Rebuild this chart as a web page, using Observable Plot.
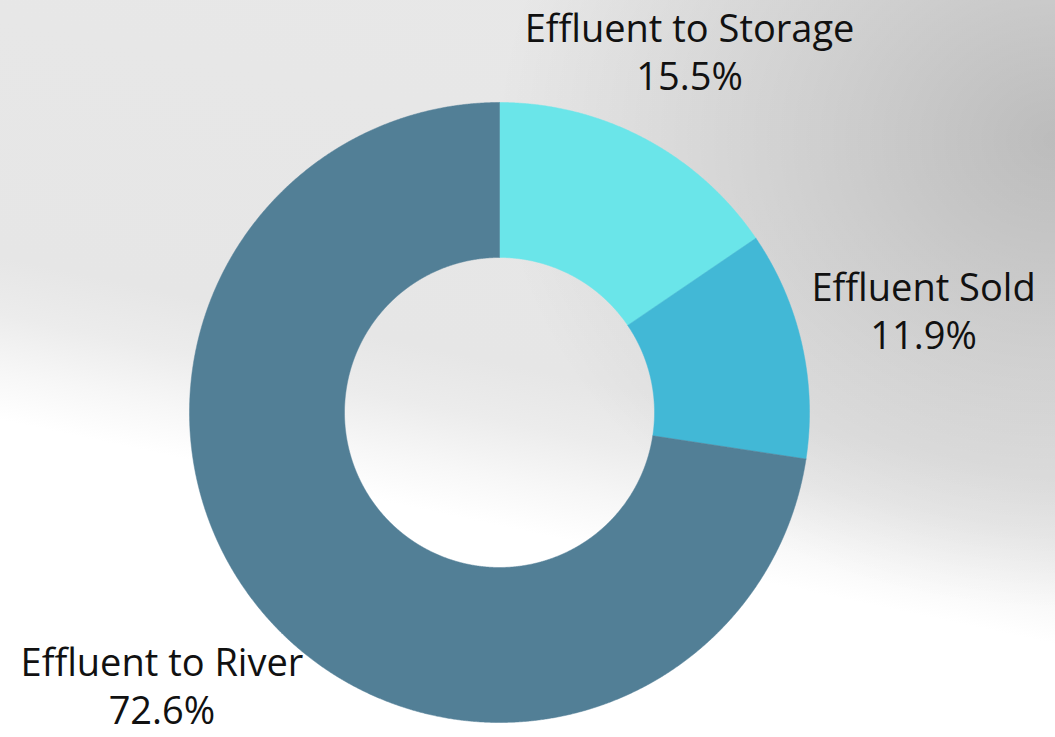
<!DOCTYPE html>
<html>
<head>
<meta charset="utf-8">
<script src="https://cdn.jsdelivr.net/npm/d3@7"></script>
<script src="https://cdn.jsdelivr.net/npm/@observablehq/plot@0.6"></script>
<style>
  html, body { margin: 0; padding: 0; }
  body {
    width: 1055px; height: 737px; overflow: hidden;
    background:
      radial-gradient(ellipse 560px 470px at 1055px 140px, rgba(0,0,0,0.19) 0%, rgba(0,0,0,0.11) 40%, rgba(0,0,0,0) 100%),
      linear-gradient(12deg, #ffffff 0%, #ffffff 33%, #f7f7f7 38%, #ececec 44%, #e6e6e6 50%, #e8e8e8 100%);
  }
  #chart svg { display: block; background: transparent; }
</style>
</head>
<body>
<div id="chart"></div>
<script>
// Data
const categories = ["Effluent to Storage", "Effluent Sold", "Effluent to River"];
const shares = [15.5, 11.9, 72.6];
const colors = ["#6ae5e9", "#42b8d6", "#527f96"];

// Layout (in radius units; outer radius = 1, centre at 0,0)
const innerRadius = 0.5;
const labelAnchors = [[0.613, 1.158], [1.368, 0.320], [-1.089, -0.889]];
const labelGaps = [48, 48, 48];

const W = 1055, H = 737;
const R = 310, cx = 499, cy = 412;

const pie = d3.pie().sort(null).value(d => d.value);
const arcs = pie(categories.map((name, i) => ({name, value: shares[i]})));

const pts = [];
for (const a of arcs) {
  const n = Math.max(8, Math.ceil((a.endAngle - a.startAngle) / 0.004));
  const poly = [];
  for (let k = 0; k <= n; k++) {
    const t = a.startAngle + (a.endAngle - a.startAngle) * k / n;
    poly.push({name: a.data.name, x: Math.sin(t), y: Math.cos(t)});
  }
  for (let k = n; k >= 0; k--) {
    const t = a.startAngle + (a.endAngle - a.startAngle) * k / n;
    poly.push({name: a.data.name, x: innerRadius * Math.sin(t), y: innerRadius * Math.cos(t)});
  }
  poly.push({...poly[0]});
  pts.push(...poly);
}

const labels = categories.map((name, i) => ({
  name, pct: shares[i].toFixed(1) + "%", x: labelAnchors[i][0], y: labelAnchors[i][1], gap: labelGaps[i]
}));

const marks = [
  Plot.line(pts, {x: "x", y: "y", z: "name", fill: "name", stroke: "name", strokeWidth: 0.5, curve: "linear"})
];
for (const l of labels) {
  marks.push(Plot.text([l], {x: "x", y: "y", text: "name", fontSize: 38, fill: "#111", dy: -l.gap / 2, lineAnchor: "middle"}));
  marks.push(Plot.text([l], {x: "x", y: "y", text: "pct", fontSize: 38, fill: "#111", dy: l.gap / 2, lineAnchor: "middle"}));
}

const chart = Plot.plot({
  width: W, height: H,
  margin: 0,
  style: {background: "transparent", fontFamily: "'Open Sans', sans-serif"},
  x: {domain: [-cx / R, (W - cx) / R], range: [0, W], axis: null},
  y: {domain: [-(H - cy) / R, cy / R], range: [H, 0], axis: null},
  color: {domain: categories, range: colors},
  marks
});
document.getElementById("chart").appendChild(chart);
</script>
</body>
</html>
